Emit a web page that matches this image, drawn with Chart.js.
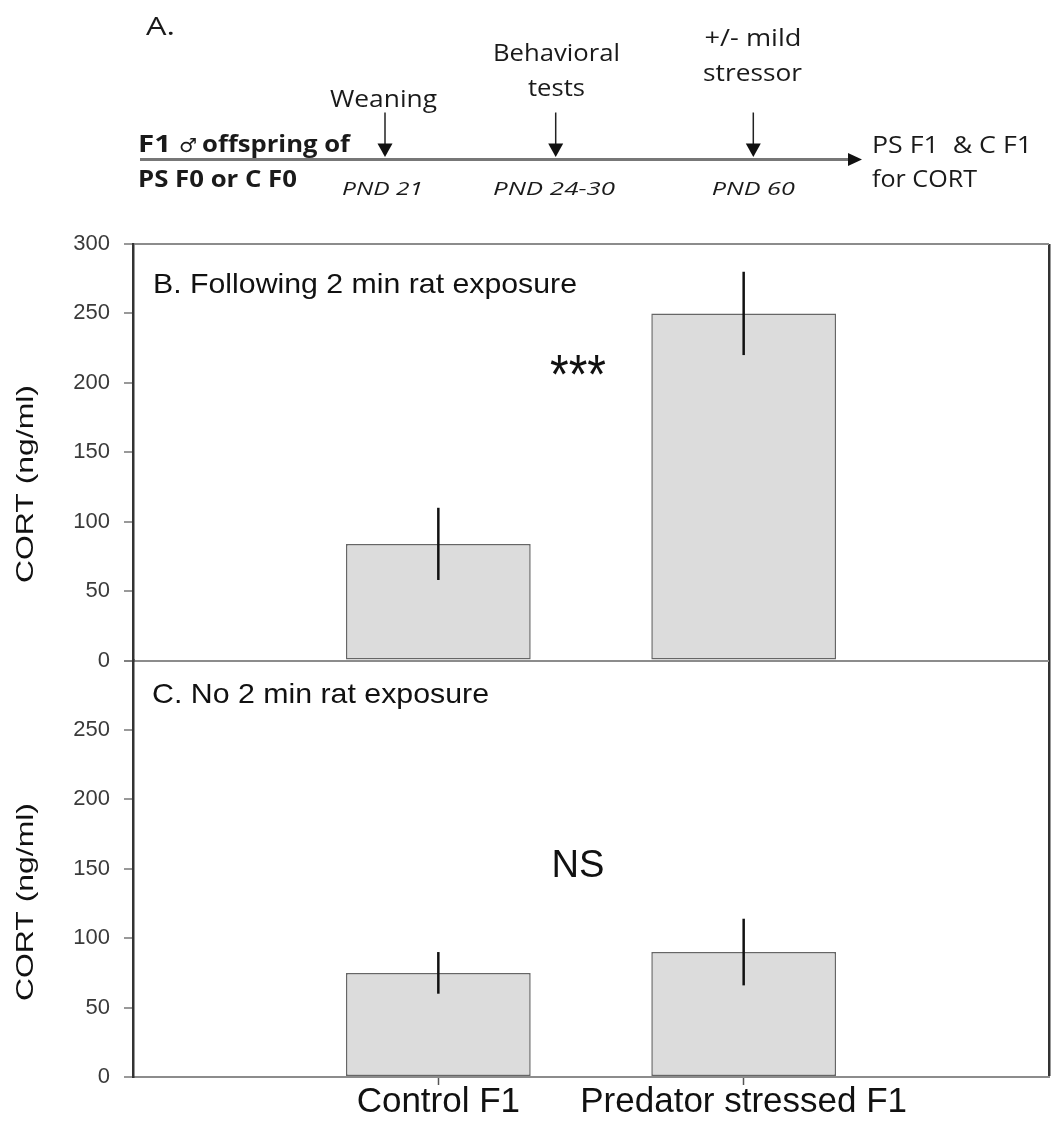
<!DOCTYPE html>
<html><head><meta charset="utf-8">
<script src="https://cdn.jsdelivr.net/npm/chart.js@4.4.1/dist/chart.umd.min.js"></script>
<style>html,body{margin:0;padding:0;background:#fff;overflow:hidden}</style>
</head><body>
<canvas id="c" width="1052" height="1128" style="display:block;width:1052px;height:1128px"></canvas>
<script>
// ---- data ----
const categories = ['', 'Control F1', 'Predator stressed F1', ''];
const exposedMeans = [null, 84, 250, null];
const exposedErrors = [null, 26, 30, null];
const unexposedMeans = [null, 75, 90, null];
const unexposedErrors = [null, 15, 24, null];
const yTickValues = [0, 50, 100, 150, 200, 250, 300];

const SANS = '"Liberation Sans", Arial, sans-serif';
const TL = '"Open Sans", "Noto Sans", sans-serif';
const axisDark = '#333333';
const axisGray = '#8c8c8c';

function fitText(ctx, str, x, y, width, align) {
  const w = ctx.measureText(str).width;
  const s = width / w;
  ctx.save();
  ctx.translate(x, y);
  ctx.scale(s, 1);
  ctx.textAlign = align;
  ctx.textBaseline = 'alphabetic';
  ctx.fillText(str, 0, 0);
  ctx.restore();
}

function yAxis(isTop) {
  return {
    type: 'linear', position: 'left', stack: 'panels', stackWeight: 1, weight: isTop ? 2 : 1,
    min: 0, max: 300,
    afterBuildTicks: s => { s.ticks = yTickValues.map(v => ({ value: v })); },
    afterFit: s => { s.width = 133; },
    border: { display: true, color: axisDark, width: 2.5 },
    grid: {
      drawOnChartArea: true, drawTicks: true, tickLength: 9, tickWidth: 1.5, tickColor: '#777',
      color: c => (isTop && c.tick && (c.tick.value === 0 || c.tick.value === 300)) ? axisGray : 'rgba(0,0,0,0)',
      lineWidth: 2
    },
    ticks: {
      padding: 14, color: '#3a3a3a', font: { family: SANS, size: 22 },
      callback: v => (!isTop && v === 300) ? '' : String(v)
    }
  };
}

const overlay = {
  id: 'overlay',
  afterDatasetsDraw(chart) {
    const ctx = chart.ctx;
    const x = chart.scales.x, yB = chart.scales.yB, yC = chart.scales.yC;
    ctx.save();
    ctx.strokeStyle = '#111';
    ctx.lineWidth = 2.5;
    const draw = (means, errs, ys) => {
      means.forEach((m, i) => {
        if (m === null) return;
        const px = x.getPixelForValue(i);
        ctx.beginPath();
        ctx.moveTo(px, ys.getPixelForValue(m + errs[i]));
        ctx.lineTo(px, ys.getPixelForValue(m - errs[i]));
        ctx.stroke();
      });
    };
    draw(exposedMeans, exposedErrors, yB);
    draw(unexposedMeans, unexposedErrors, yC);
    ctx.restore();
  },
  afterDraw(chart) {
    const ctx = chart.ctx;
    ctx.save();
    ctx.fillStyle = '#111';
    // panel titles
    ctx.font = '28px ' + SANS;
    fitText(ctx, 'B. Following 2 min rat exposure', 153, 293, 424, 'left');
    fitText(ctx, 'C. No 2 min rat exposure', 152, 703, 337, 'left');
    // significance marks
    ctx.font = '56px ' + SANS;
    fitText(ctx, '***', 578, 393, 56, 'center');
    ctx.font = '39px ' + SANS;
    fitText(ctx, 'NS', 578, 877, 53, 'center');
    // y titles
    ctx.font = '24px ' + SANS;
    [484, 902].forEach(cy => {
      const w = ctx.measureText('CORT (ng/ml)').width;
      ctx.save();
      ctx.translate(33, cy);
      ctx.rotate(-Math.PI / 2);
      ctx.scale(198 / w, 1);
      ctx.textAlign = 'center';
      ctx.textBaseline = 'alphabetic';
      ctx.fillText('CORT (ng/ml)', 0, 0);
      ctx.restore();
    });

    // ---- timeline (panel A) ----
    ctx.fillStyle = '#1a1a1a';
    ctx.font = '25px ' + TL;
    fitText(ctx, 'A.', 146, 35, 29, 'left');
    ctx.font = '23px ' + TL;
    fitText(ctx, 'Weaning', 383.5, 106.7, 107, 'center');
    fitText(ctx, 'Behavioral', 556.5, 61, 127, 'center');
    fitText(ctx, 'tests', 556.5, 96, 57, 'center');
    fitText(ctx, '+/- mild', 753, 45.5, 97, 'center');
    fitText(ctx, 'stressor', 752.5, 80.7, 99, 'center');
    ctx.font = 'bold 23px ' + TL;
    fitText(ctx, 'F1', 138, 151.5, 33, 'left');
    fitText(ctx, 'offspring of', 202, 151.5, 148, 'left');
    fitText(ctx, 'PS F0 or C F0', 138, 186.5, 159, 'left');
    ctx.font = 'bold 19px "DejaVu Sans", sans-serif';
    fitText(ctx, '\u2642', 179, 151.5, 18, 'left');
    ctx.font = 'italic 19px ' + TL;
    fitText(ctx, 'PND 21', 382.5, 195, 81, 'center');
    fitText(ctx, 'PND 24-30', 554, 195, 122, 'center');
    fitText(ctx, 'PND 60', 753.3, 195, 83, 'center');
    ctx.font = '23px ' + TL;
    fitText(ctx, 'PS F1  & C F1', 872, 152.7, 160, 'left');
    fitText(ctx, 'for CORT', 872, 186.7, 105, 'left');

    // main line
    ctx.strokeStyle = '#777';
    ctx.lineWidth = 3;
    ctx.beginPath(); ctx.moveTo(140, 159.5); ctx.lineTo(850, 159.5); ctx.stroke();
    ctx.fillStyle = '#111';
    ctx.beginPath(); ctx.moveTo(848, 153); ctx.lineTo(862, 159.5); ctx.lineTo(848, 166); ctx.closePath(); ctx.fill();
    // event arrows
    ctx.strokeStyle = '#222';
    ctx.lineWidth = 1.5;
    [385, 555.7, 753.3].forEach(ax => {
      ctx.beginPath(); ctx.moveTo(ax, 112.5); ctx.lineTo(ax, 145); ctx.stroke();
      ctx.beginPath(); ctx.moveTo(ax - 7.5, 143.5); ctx.lineTo(ax + 7.5, 143.5); ctx.lineTo(ax, 157); ctx.closePath(); ctx.fill();
    });
    ctx.restore();
  }
};

const barStyle = {
  backgroundColor: '#dcdcdc', borderColor: '#666', borderWidth: 1.5, borderSkipped: false,
  grouped: false, categoryPercentage: 0.605, barPercentage: 1
};

new Chart(document.getElementById('c'), {
  type: 'bar',
  data: {
    labels: categories,
    datasets: [
      Object.assign({ label: 'Following 2 min rat exposure', data: exposedMeans, yAxisID: 'yB' }, barStyle),
      Object.assign({ label: 'No 2 min rat exposure', data: unexposedMeans, yAxisID: 'yC' }, barStyle)
    ]
  },
  options: {
    responsive: false, animation: false, devicePixelRatio: 1,
    layout: { padding: { left: 0, top: 244, right: 3, bottom: 0 } },
    plugins: { legend: { display: false }, tooltip: { enabled: false }, title: { display: false } },
    scales: {
      x: {
        type: 'category', offset: false,
        afterFit: s => { s.height = 51; },
        border: { display: true, color: axisGray, width: 2 },
        grid: {
          offset: false, drawOnChartArea: true, drawTicks: true, tickLength: 8, tickWidth: 1.5,
          tickColor: c => (c.index === 1 || c.index === 2) ? '#555' : 'rgba(0,0,0,0)',
          color: c => c.index === 3 ? axisDark : 'rgba(0,0,0,0)',
          lineWidth: c => c.index === 3 ? 2.5 : 1
        },
        ticks: { autoSkip: false, maxRotation: 0, minRotation: 0, padding: 0, color: '#111',
                 font: { family: SANS, size: 35, lineHeight: 1 } }
      },
      yC: yAxis(false),
      yB: yAxis(true)
    }
  },
  plugins: [overlay]
});
</script>
</body></html>
